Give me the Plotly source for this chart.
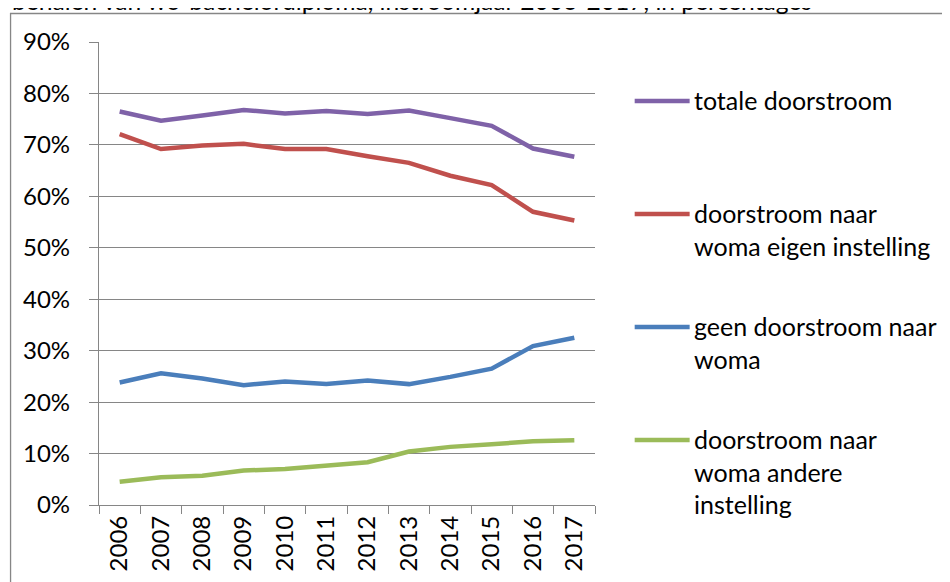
import plotly.graph_objects as go

years = ["2006", "2007", "2008", "2009", "2010", "2011", "2012", "2013", "2014", "2015", "2016", "2017"]
totale = [76.5, 74.7, 75.7, 76.8, 76.1, 76.6, 76.0, 76.7, 75.2, 73.7, 69.3, 67.7]
eigen = [72.1, 69.2, 69.9, 70.2, 69.2, 69.2, 67.8, 66.5, 64.0, 62.2, 57.0, 55.3]
geen = [23.8, 25.6, 24.6, 23.3, 24.0, 23.5, 24.2, 23.5, 24.9, 26.5, 30.9, 32.5]
andere = [4.5, 5.4, 5.7, 6.7, 7.0, 7.6, 8.3, 10.4, 11.3, 11.8, 12.4, 12.6]

names = ["totale doorstroom",
         "doorstroom naar<br>woma eigen instelling",
         "geen doorstroom naar<br>woma",
         "doorstroom naar<br>woma andere<br>instelling"]
series = [totale, eigen, geen, andere]
colors = ["#7F62A8", "#C0504D", "#4A7EBB", "#9BBB59"]

# page has an 8px body margin; figure sized to fit the 950x582 window
OFF = 8
W, H = 950 - OFF, 582 - OFF
# plot area in screen pixels: x 99..595.3, y 42..505
X0, X1, Y0, Y1 = 99 - OFF, 595.3 - OFF, 42 - OFF, 505 - OFF
L, R, T, B = X0, W - X1, Y0, H - Y1
pw, ph = X1 - X0, Y1 - Y0

def px(x):
    return (x - OFF - X0) / pw

def py(y):
    return (Y1 - (y - OFF)) / ph

FONT = "Lato"
grid = "#868686"

fig = go.Figure()
for name, vals, col in zip(names, series, colors):
    fig.add_trace(go.Scatter(x=years, y=[v / 100 for v in vals], mode="lines",
                             name=name, line=dict(color=col, width=4.5),
                             showlegend=False))

# manual legend
leg_y = [101, 214, 327, 440]
shapes = []
annotations = []
for name, col, yy in zip(names, colors, leg_y):
    shapes.append(dict(type="line", xref="paper", yref="paper",
                       x0=px(635), x1=px(690), y0=py(yy), y1=py(yy),
                       line=dict(color=col, width=4.5)))
    annotations.append(dict(text=name, xref="paper", yref="paper",
                            x=px(692), y=py(yy - 18), xanchor="left", yanchor="top",
                            align="left", showarrow=False,
                            font=dict(family=FONT, size=25, color="#000000")))

# outer frame
shapes.append(dict(type="rect", xref="paper", yref="paper",
                   x0=px(10.5), x1=px(1000), y0=py(13.5), y1=py(700),
                   line=dict(color=grid, width=1.3), layer="below"))

# cut-off title at top
annotations.append(dict(text="behalen van wo-bachelordiploma, instroomjaar 2006-2017, in percentages",
                        xref="paper", yref="paper", x=px(10), y=py(17),
                        xanchor="left", yanchor="bottom", showarrow=False,
                        font=dict(family=FONT, size=24.6, color="#000000")))

fig.update_layout(
    width=W, height=H,
    margin=dict(l=L, r=R, t=T, b=B),
    paper_bgcolor="white", plot_bgcolor="white",
    font=dict(family=FONT, size=24, color="#000000"),
    shapes=shapes, annotations=annotations,
    xaxis=dict(type="category", range=[-0.5, 11.5], tickangle=-90,
               showgrid=False, showline=True, linecolor=grid, linewidth=1.3,
               ticks="outside", ticklen=8, tickcolor=grid, tickwidth=1.3,
               tickson="boundaries", tickfont=dict(family=FONT, size=24),
               fixedrange=True),
    yaxis=dict(range=[0, 0.9], dtick=0.1, tickformat=".0%",
               showgrid=True, gridcolor=grid, gridwidth=1.3,
               showline=True, linecolor=grid, linewidth=1.3,
               ticks="outside", ticklen=9, tickcolor=grid, tickwidth=1.3,
               ticklabelstandoff=14,
               tickfont=dict(family=FONT, size=24), zeroline=False,
               fixedrange=True),
)

fig.write_html("out.html")
